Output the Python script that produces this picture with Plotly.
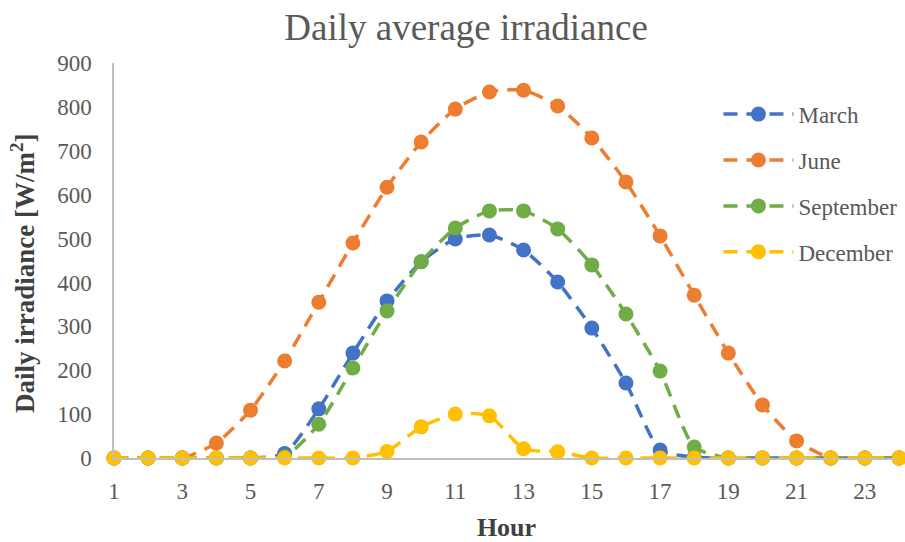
import plotly.graph_objects as go

hours = list(range(1, 25))

march = [0, 0, 0, 0, 0, 10, 112, 239, 358, 447, 499, 508, 474, 401, 296, 171, 18, 2, 0, 0, 0, 0, 0, 0]
june = [0, 0, 0, 34, 109, 221, 355, 490, 617, 720, 795, 834, 838, 802, 729, 629, 506, 371, 239, 121, 39, 0, 0, 0]
september = [0, 0, 0, 0, 0, 3, 77, 205, 335, 447, 524, 563, 563, 522, 440, 328, 198, 25, 0, 0, 0, 0, 0, 0]
december = [0, 0, 0, 0, 0, 0, 0, 0, 15, 71, 100, 96, 21, 14, 0, 0, 0, 0, 0, 0, 0, 0, 0, 0]

series = [
    ("March", march, "#4472C4"),
    ("June", june, "#ED7D31"),
    ("September", september, "#70AD47"),
    ("December", december, "#FFC000"),
]

tick_vals = list(range(1, 24, 2))
font_family = "Liberation Serif, Times New Roman, serif"

fig = go.Figure()
for name, vals, color in series:
    fig.add_trace(go.Scatter(
        x=hours, y=vals, name=name, legendgroup=name,
        mode="lines+markers",
        line=dict(color=color, width=3.5, dash="14px,9px", shape="spline", smoothing=0.6),
        marker=dict(color=color, size=15),
        cliponaxis=False,
    ))

fig.update_layout(
    width=905, height=542,
    margin=dict(l=114, r=6, t=63, b=84, autoexpand=False),
    paper_bgcolor="white", plot_bgcolor="white",
    font=dict(family=font_family, color="#595959", size=23),
    title=dict(text="Daily average irradiance", x=0.515, xanchor="center",
               y=0.95, yanchor="middle",
               font=dict(size=37, color="#595959", family=font_family)),
    legend=dict(x=0.77, y=0.925, xanchor="left", yanchor="top",
                font=dict(size=23, color="#595959"),
                bgcolor="rgba(0,0,0,0)", tracegroupgap=13, itemwidth=70),
    showlegend=True,
)

# vertical axis title placed as a rotated annotation
fig.add_annotation(
    text="<b>Daily irradiance [W/m<sup>2</sup>]</b>",
    xref="paper", yref="paper", x=-114 / 785 + 23 / 785, y=(458 - 274) / 395,
    xanchor="center", yanchor="middle", textangle=-90, showarrow=False,
    font=dict(size=27, color="#404040", family=font_family),
)

fig.update_xaxes(
    range=[1, 24], tickmode="array", tickvals=tick_vals,
    ticktext=[str(v) for v in tick_vals],
    showgrid=False, zeroline=False, automargin=False,
    showline=True, linecolor="#BFBFBF", linewidth=1.5,
    ticks="", ticklabelstandoff=12, tickfont=dict(size=23, color="#595959"),
    title=dict(text="<b>Hour</b>", font=dict(size=26, color="#404040"), standoff=23),
)
fig.update_yaxes(
    range=[0, 900], dtick=100,
    showgrid=False, zeroline=False, automargin=False,
    showline=True, linecolor="#BFBFBF", linewidth=1.5,
    ticks="", ticklabelstandoff=16, tickfont=dict(size=23, color="#595959"),
)

fig.write_html("out.html")
